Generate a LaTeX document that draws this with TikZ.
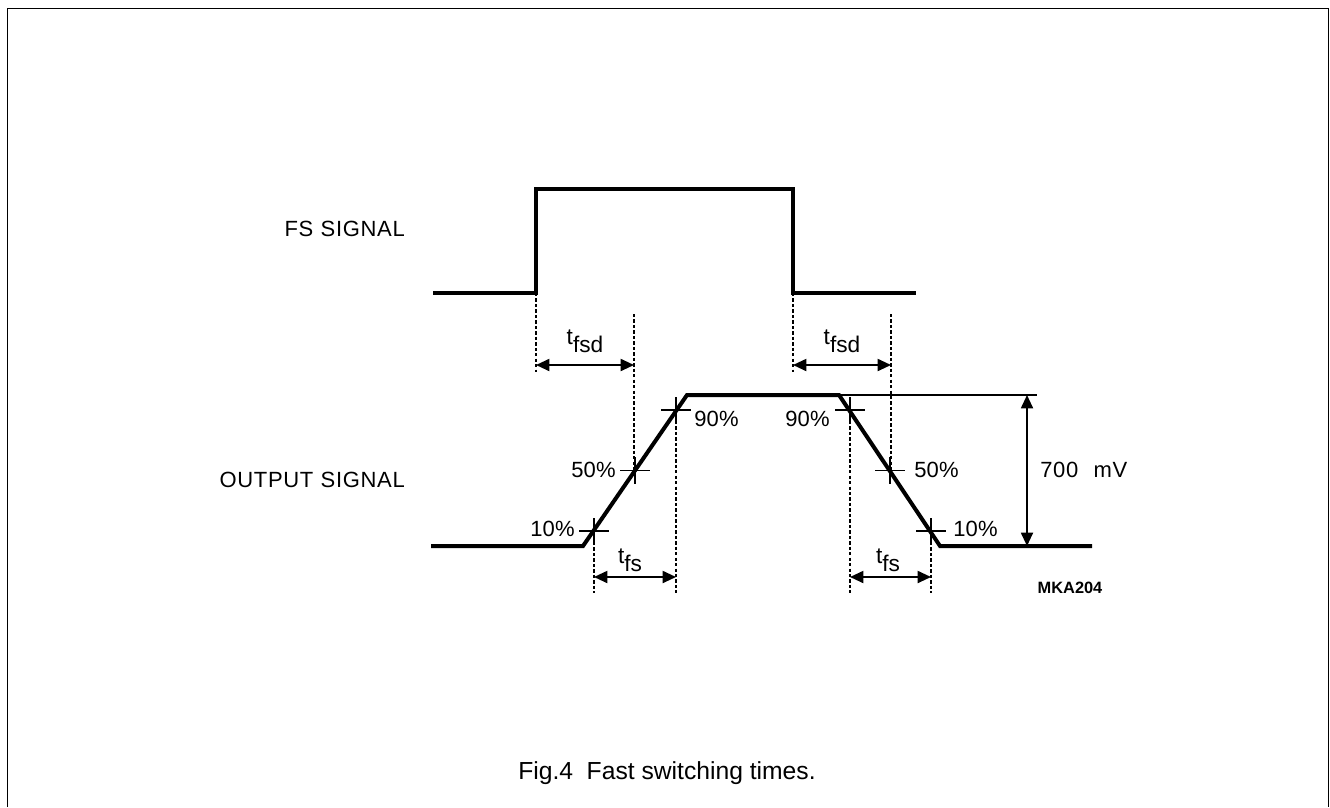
\documentclass[tikz,border=0pt]{standalone}
\usepackage{fontspec}
\setmainfont{Liberation Sans}
\usetikzlibrary{arrows.meta}
\begin{document}
\begin{tikzpicture}[x=0.75pt,y=-0.75pt,
 sig/.style={line width=3pt, line join=miter},
 thinline/.style={line width=1pt},
 dots/.style={line width=1.2pt, dash pattern=on 2.5pt off 1.6pt},
 dimarrow/.style={line width=1.4pt, {Triangle[length=10pt,width=9pt]}-{Triangle[length=10pt,width=9pt]}},
 lbl/.style={inner sep=0pt, font=\fontsize{16.5}{19}\selectfont\addfontfeature{LetterSpace=3}},
 plbl/.style={inner sep=0pt, font=\fontsize{16.5}{19}\selectfont\addfontfeature{LetterSpace=1}},
 tlbl/.style={inner sep=0pt, font=\fontsize{17}{20}\selectfont},
 tick/.style={line width=1pt},
 ]
\useasboundingbox (0,0) rectangle (1330,807);
\draw[line width=1.2pt] (7.5,807) -- (7.5,8.5) -- (1328.5,8.5) -- (1328.5,807);

% FS signal
\coordinate (f0) at (433,293);
\coordinate (f1) at (536,293);
\coordinate (f2) at (536,189);
\coordinate (f3) at (793,189);
\coordinate (f4) at (793,293);
\coordinate (f5) at (916,293);
\draw[sig] (f0) -- (f1) -- (f2) -- (f3) -- (f4) -- (f5);

% output signal
\coordinate (o0) at (431,546);
\coordinate (o1) at (583,546);
\coordinate (o2) at (687,395);
\coordinate (o3) at (839,395);
\coordinate (o4) at (940,546);
\coordinate (o5) at (1092,546);
\draw[sig] (o0) -- (o1) -- (o2) -- (o3) -- (o4) -- (o5);

% crosses
\foreach \n/\x/\y in {r10/594/531, r50/635/470.5, r90/676/410, d90/850/410, d50/890/470.5, d10/931/531}{
  \coordinate (\n) at (\x,\y);
  \draw[tick] ([xshift=-11pt]\n) -- ([xshift=11pt]\n);
  \draw[tick] ([yshift=-10pt]\n) -- ([yshift=10pt]\n);
}

% dotted guide lines
\coordinate (g1a) at (634,314); \coordinate (g1b) at (634,471);
\coordinate (g2a) at (891,314); \coordinate (g2b) at (891,471);
\coordinate (e1) at (536,372); \coordinate (e2) at (793,372);
\coordinate (b1) at (594,593); \coordinate (b2) at (676,593);
\coordinate (b3) at (850,593); \coordinate (b4) at (931,593);
\draw[dots] (f1) -- (e1);
\draw[dots] (f4) -- (e2);
\draw[dots] (g1a) -- (g1b);
\draw[dots] (g2a) -- (g2b);
\draw[dots] (r10) -- (b1);
\draw[dots] (r90) -- (b2);
\draw[dots] (d90) -- (b3);
\draw[dots] (d10) -- (b4);

% dimension arrows
\coordinate (a1l) at (536,365); \coordinate (a1r) at (634,365);
\coordinate (a2l) at (793,365); \coordinate (a2r) at (891,365);
\coordinate (a3l) at (594,577); \coordinate (a3r) at (676,577);
\coordinate (a4l) at (850,577); \coordinate (a4r) at (931,577);
\draw[dimarrow] (a1l) -- (a1r);
\draw[dimarrow] (a2l) -- (a2r);
\draw[dimarrow] (a3l) -- (a3r);
\draw[dimarrow] (a4l) -- (a4r);

% 700 mV
\coordinate (tl) at (1037,395);
\coordinate (v1) at (1027,395);
\coordinate (v2) at (1027,546);
\draw[thinline] (o3) -- (tl);
\draw[dimarrow] (v1) -- (v2);

% labels
\node[lbl, anchor=east] (fslab) at (405,229) {FS\,\,SIGNAL};
\node[lbl, anchor=east] (outlab) at (405,480) {OUTPUT\,\,SIGNAL};
\node[tlbl] (tfsd1) at (585,341) {t\raisebox{-0.35em}{fsd}};
\node[tlbl] (tfsd2) at (842,341) {t\raisebox{-0.35em}{fsd}};
\node[tlbl] (tfs1) at (630,560) {t\raisebox{-0.35em}{fs}};
\node[tlbl] (tfs2) at (888,560) {t\raisebox{-0.35em}{fs}};
\node[plbl, anchor=west] (p90a) at (694,419) {90\%};
\node[plbl, anchor=east] (p50a) at (616,470) {50\%};
\node[plbl, anchor=east] (p10a) at (575,529) {10\%};
\node[plbl, anchor=east] (p90b) at (830,419) {90\%};
\node[plbl, anchor=west] (p50b) at (914,470) {50\%};
\node[plbl, anchor=west] (p10b) at (953,529) {10\%};
\node[lbl, anchor=west] (mv) at (1040,470) {700\hspace{0.7em}mV};
\node[inner sep=0pt, font=\fontsize{12.3}{14}\selectfont\bfseries] (code) at (1070,588) {MKA204};
\node[inner sep=0pt, font=\fontsize{18.5}{22}\selectfont] (cap) at (667,773) {Fig.4\hspace{0.55em}Fast switching times.};
\end{tikzpicture}
\end{document}
